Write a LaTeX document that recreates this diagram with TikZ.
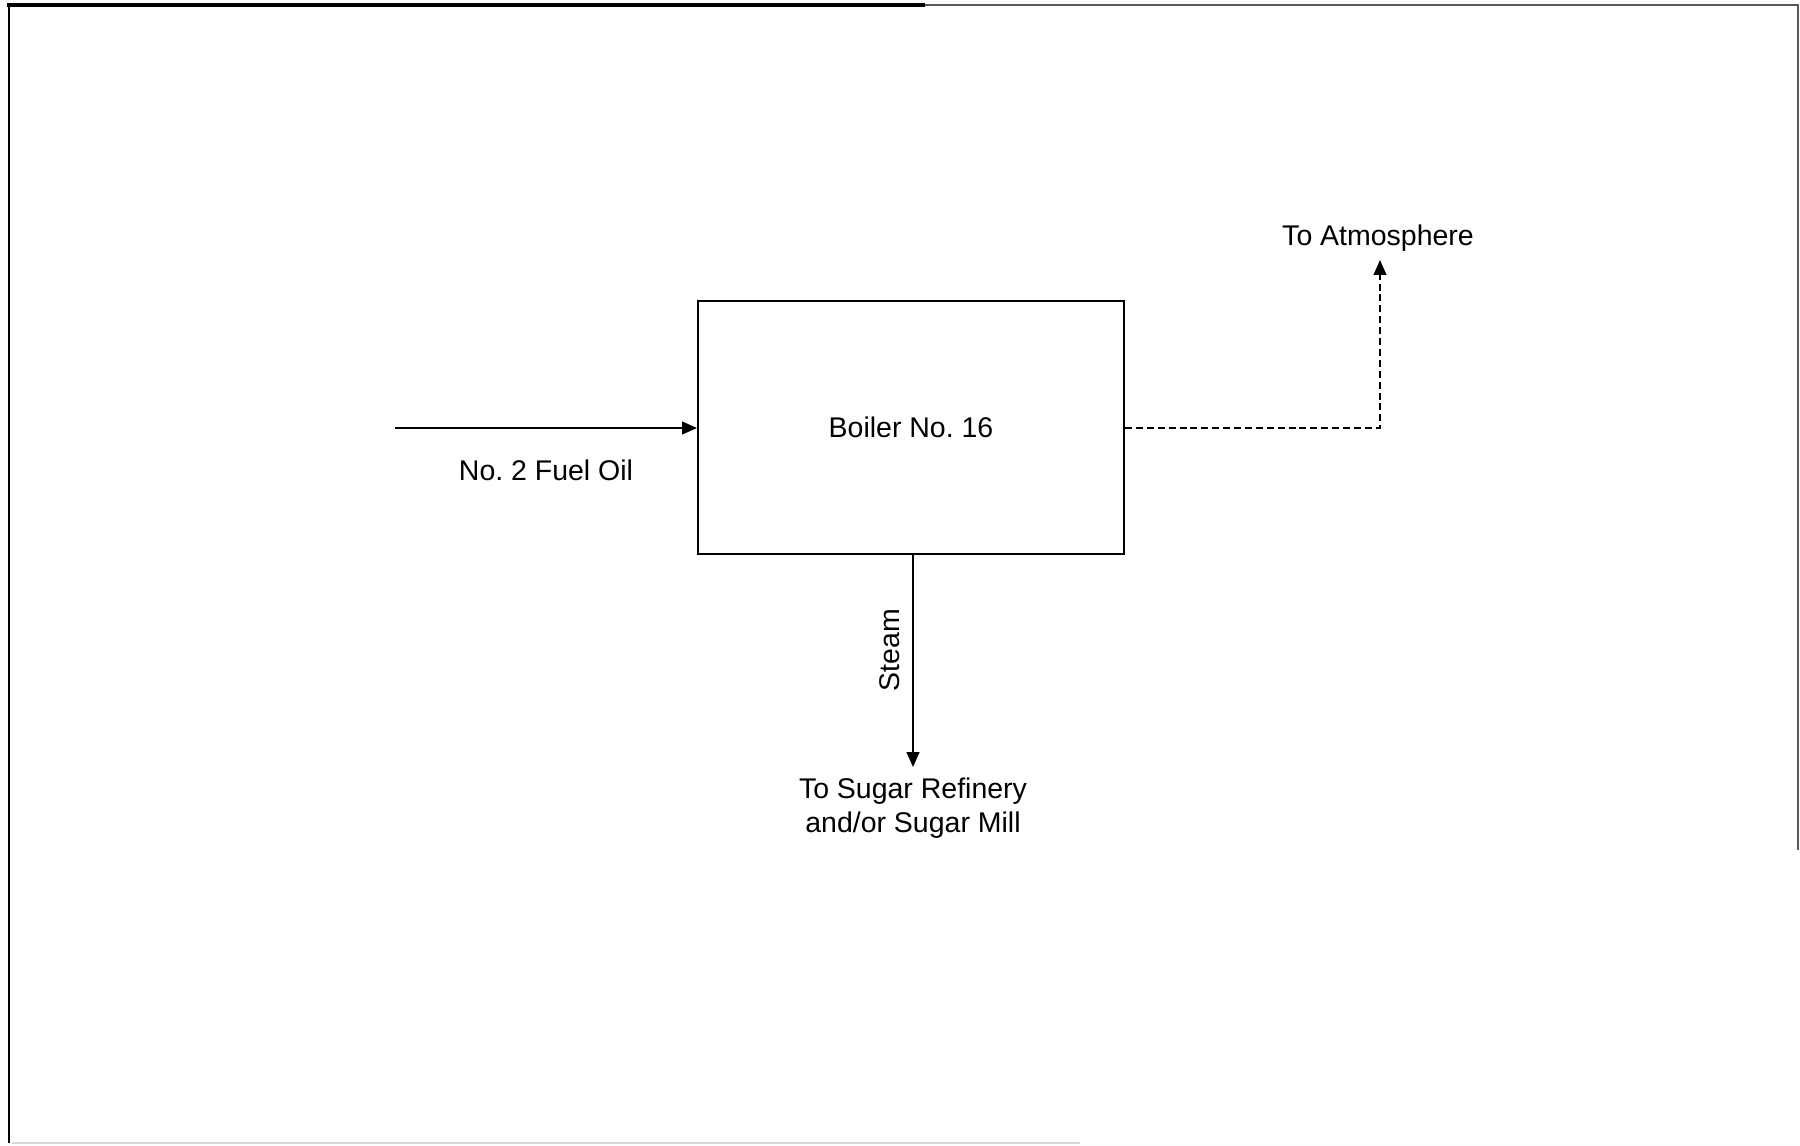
\documentclass[tikz,border=0pt]{standalone}
\usepackage{fontspec}
\setmainfont{Liberation Sans}
\usetikzlibrary{arrows.meta}
\frenchspacing
\begin{document}
\begin{tikzpicture}[x=0.01cm,y=-0.01cm,
  lbl/.style={inner sep=0pt,font=\fontsize{8.1}{9.6}\selectfont,align=center},
  flow/.style={line width=0.45pt,-{Triangle[length=4.2pt,width=3.6pt]}},
  boxst/.style={draw,line width=0.5pt,minimum width=4.26cm,minimum height=2.53cm,inner sep=0pt}]
\useasboundingbox (0,0) rectangle (1800,1145);
% scanned frame
\draw[line width=0.9pt] (7,5) -- (925,5);
\draw[line width=0.5pt,black!65] (925,5) -- (1799,5);
\draw[line width=0.5pt] (9,5) -- (9,1143);
\draw[line width=0.5pt,black!65] (1798,5) -- (1798,850);
\draw[line width=0.5pt,black!15] (12,1143) -- (1080,1143);
% boiler
\node[boxst] (boiler) at (911,427.5) {};
\node[lbl] (boilertxt) at (911,427) {Boiler No. 16};
% fuel oil input
\coordinate (fuelstart) at (395,428);
\node[lbl] (fuel) at (546,470) {No. 2 Fuel Oil};
\draw[flow] (fuelstart) -- (fuelstart -| boiler.west);
% to atmosphere
\node[lbl] (atm) at (1378,238) {To Atmosphere};
\coordinate (atmtip) at (1380,260);
\draw[flow,dash pattern=on 2pt off 1.1pt] (boiler.east |- fuelstart) -| (atmtip);
% steam
\coordinate (steamtop) at (913,554);
\coordinate (steamtip) at (913,767);
\draw[flow] (steamtop) -- (steamtip);
\node[lbl,rotate=90] (steam) at (890,650) {Steam};
\node[lbl] (sugar) at (913,808) {To Sugar Refinery\\and/or Sugar Mill};
\end{tikzpicture}
\end{document}
